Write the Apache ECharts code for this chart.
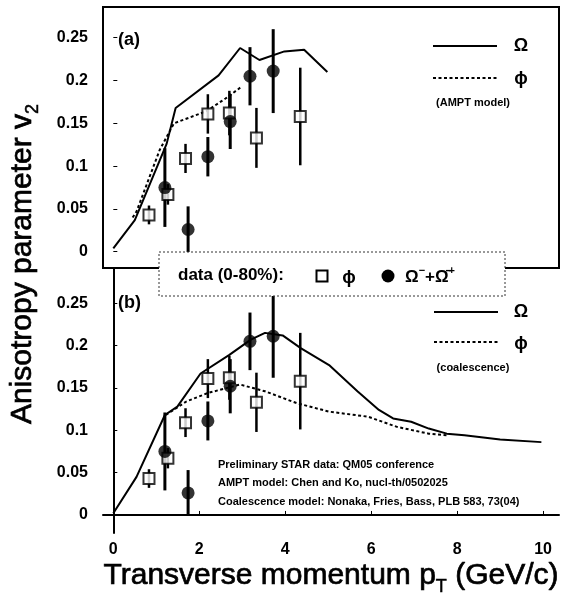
<!DOCTYPE html>
<html>
<head>
<meta charset="utf-8">
<script src="https://cdn.jsdelivr.net/npm/echarts@6/dist/echarts.min.js"></script>
<style>
html,body{margin:0;padding:0;background:#fff;}
#chart{width:561px;height:597px;}
</style>
</head>
<body>
<div id="chart"></div>
<script>
// ---- data ----
const xTicks = [0, 2, 4, 6, 8, 10];
const yTicks = [0, 0.05, 0.1, 0.15, 0.2, 0.25];

// STAR preliminary data (same in both panels)
const phiPt  = [0.83, 1.27, 1.68, 2.2, 2.7, 3.33, 4.35];
const phiV2  = [0.043, 0.067, 0.109, 0.161, 0.162, 0.133, 0.158];
const phiErr = [0.011, 0.012, 0.017, 0.023, 0.026, 0.035, 0.057];

const omegaPt  = [1.2, 1.74, 2.2, 2.72, 3.18, 3.72];
const omegaV2  = [0.075, 0.026, 0.111, 0.152, 0.205, 0.211];
const omegaErr = [0.046, 0.027, 0.023, 0.032, 0.034, 0.049];

// AMPT model curves (panel a)
const amptOmegaPt = [0, 0.5, 1.24, 1.45, 2.45, 2.95, 3.4, 3.98, 4.44, 4.98];
const amptOmegaV2 = [0.004, 0.037, 0.126, 0.168, 0.206, 0.238, 0.224, 0.234, 0.236, 0.21];
const amptPhiPt = [0.45, 0.54, 1.08, 1.24, 1.41, 2.16, 2.61, 2.99];
const amptPhiV2 = [0.04, 0.047, 0.119, 0.134, 0.15, 0.164, 0.179, 0.193];

// Coalescence model curves (panel b)
const coalOmegaPt = [0, 0.54, 1.2, 1.49, 2.03, 2.7, 3.2, 3.53, 3.94, 4.36, 5.02, 5.68, 6.18, 6.51, 6.93, 7.34, 7.76, 8.17, 9.0, 9.96];
const coalOmegaV2 = [0.002, 0.045, 0.118, 0.128, 0.167, 0.189, 0.207, 0.215, 0.212, 0.197, 0.177, 0.146, 0.124, 0.114, 0.11, 0.102, 0.096, 0.094, 0.089, 0.086];
const coalPhiPt = [1.22, 1.7, 2.2, 2.95, 3.53, 4.27, 5.02, 5.93, 6.6, 7.34, 7.76];
const coalPhiV2 = [0.118, 0.134, 0.144, 0.154, 0.146, 0.132, 0.122, 0.116, 0.104, 0.096, 0.094];

// ---- helpers ----
const FF = "'Liberation Sans', Arial, Helvetica, sans-serif";
const zip = (a, b) => a.map((v, i) => [v, b[i]]);
const zip3 = (a, b, c) => a.map((v, i) => [v, b[i], c[i]]);

function errBars(grid, pts, width) {
  return {
    type: 'custom', xAxisIndex: grid, yAxisIndex: grid, z: 3,
    data: pts,
    renderItem: function (params, api) {
      const x = api.value(0), y = api.value(1), e = api.value(2);
      const p1 = api.coord([x, y - e]);
      const p2 = api.coord([x, y + e]);
      return { type: 'line', shape: { x1: p1[0], y1: p1[1], x2: p2[0], y2: p2[1] },
               style: { stroke: '#000', lineWidth: width } };
    }
  };
}
function curve(grid, pts, dashed) {
  return {
    type: 'line', xAxisIndex: grid, yAxisIndex: grid, data: pts, showSymbol: false,
    symbol: 'none', z: 2, silent: true,
    lineStyle: { color: '#000', width: 2, type: dashed ? [3, 2.5] : 'solid' }
  };
}
function squares(grid) {
  return { type: 'scatter', xAxisIndex: grid, yAxisIndex: grid, z: 5,
    data: zip(phiPt, phiV2), symbol: 'rect', symbolSize: 11,
    itemStyle: { color: '#fff', borderColor: '#000', borderWidth: 2 } };
}
function circles(grid) {
  return { type: 'scatter', xAxisIndex: grid, yAxisIndex: grid, z: 6,
    data: zip(omegaPt, omegaV2), symbol: 'circle', symbolSize: 13,
    itemStyle: { color: '#000' } };
}

const tickFmt = v => String(+v.toFixed(2));
function yAxis(grid, min, max, showLine) {
  return {
    type: 'value', gridIndex: grid, min: min, max: max,
    axisLine: { show: showLine, lineStyle: { color: '#000', width: 2 } },
    axisTick: { show: true, inside: true, length: 4, customValues: yTicks, lineStyle: { color: '#000', width: 1 } },
    axisLabel: { customValues: yTicks, formatter: tickFmt, color: '#000', fontSize: 16,
                 fontWeight: 'bold', fontFamily: FF, margin: 15 },
    splitLine: { show: false }
  };
}

const titleRich = (subPad) => ({
  a: { fontSize: 30, fontFamily: FF, fill: '#000', stroke: '#000', lineWidth: 0.7, lineHeight: 34, verticalAlign: 'top' },
  s: { fontSize: 18, fontFamily: FF, fill: '#000', stroke: '#000', lineWidth: 0.5, lineHeight: 18, padding: [subPad, 0, 0, 0], verticalAlign: 'top' }
});

const chart = echarts.init(document.getElementById('chart'), null, { renderer: 'canvas' });

const option = {
  backgroundColor: '#fff',
  animation: false,
  grid: [
    { left: 103, top: 7, width: 456, height: 261, show: true, borderColor: '#000', borderWidth: 2, backgroundColor: 'rgba(0,0,0,0)' },
    { left: 103, top: 268, width: 456, height: 265 }
  ],
  xAxis: [
    { type: 'value', gridIndex: 0, min: -0.24, max: 10.37,
      axisLine: { show: false }, axisTick: { show: false }, axisLabel: { show: false }, splitLine: { show: false } },
    { type: 'value', gridIndex: 1, min: -0.24, max: 10.37,
      axisLine: { show: true, lineStyle: { color: '#000', width: 2 } },
      axisTick: { show: true, inside: true, length: 4, customValues: xTicks, lineStyle: { color: '#000' } },
      axisLabel: { customValues: xTicks, color: '#000', fontSize: 16, fontWeight: 'bold', fontFamily: FF, margin: 9 },
      splitLine: { show: false } }
  ],
  yAxis: [ yAxis(0, -0.019, 0.2859, false), yAxis(1, -0.0213, 0.2916, true) ],
  series: [
    curve(0, zip(amptPhiPt, amptPhiV2), true),
    curve(0, zip(amptOmegaPt, amptOmegaV2), false),
    errBars(0, zip3(phiPt, phiV2, phiErr), 2.5),
    errBars(0, zip3(omegaPt, omegaV2, omegaErr), 3),
    squares(0), circles(0),
    curve(1, zip(coalPhiPt, coalPhiV2), true),
    curve(1, zip(coalOmegaPt, coalOmegaV2), false),
    errBars(1, zip3(phiPt, phiV2, phiErr), 2.5),
    errBars(1, zip3(omegaPt, omegaV2, omegaErr), 3),
    squares(1), circles(1)
  ],
  graphic: { elements: [
    // axis titles
    { type: 'text', x: 25, y: 264, rotation: Math.PI / 2, z: 10,
      style: { text: '{a|Anisotropy parameter v}{s|2}', align: 'center', verticalAlign: 'middle', rich: titleRich(16) } },
    { type: 'text', x: 331, y: 578, z: 10,
      style: { text: '{a|Transverse momentum p}{s|T}{a| (GeV/c)}', align: 'center', verticalAlign: 'middle', rich: titleRich(17) } },
    // panel labels
    { type: 'text', x: 118, y: 40, z: 10, style: { text: '(a)', font: 'bold 18px ' + FF, fill: '#000', align: 'left', verticalAlign: 'middle' } },
    { type: 'text', x: 118, y: 303, z: 10, style: { text: '(b)', font: 'bold 18px ' + FF, fill: '#000', align: 'left', verticalAlign: 'middle' } },
    // panel (a) legend
    { type: 'line', z: 10, shape: { x1: 433, y1: 46, x2: 497, y2: 46 }, style: { stroke: '#000', lineWidth: 2 } },
    { type: 'text', x: 521, y: 46, z: 10, style: { text: 'Ω', font: 'bold 18px ' + FF, fill: '#000', align: 'center', verticalAlign: 'middle' } },
    { type: 'line', z: 10, shape: { x1: 433, y1: 78, x2: 497, y2: 78 }, style: { stroke: '#000', lineWidth: 2, lineDash: [3, 2.5] } },
    { type: 'text', x: 521, y: 79, z: 10, style: { text: 'ϕ', font: 'bold 18px ' + FF, fill: '#000', align: 'center', verticalAlign: 'middle' } },
    { type: 'text', x: 473, y: 103, z: 10, style: { text: '(AMPT model)', font: 'bold 11px ' + FF, fill: '#000', align: 'center', verticalAlign: 'middle' } },
    // panel (b) legend
    { type: 'line', z: 10, shape: { x1: 434, y1: 312, x2: 498, y2: 312 }, style: { stroke: '#000', lineWidth: 2 } },
    { type: 'text', x: 521, y: 312, z: 10, style: { text: 'Ω', font: 'bold 18px ' + FF, fill: '#000', align: 'center', verticalAlign: 'middle' } },
    { type: 'line', z: 10, shape: { x1: 434, y1: 342, x2: 498, y2: 342 }, style: { stroke: '#000', lineWidth: 2, lineDash: [3, 2.5] } },
    { type: 'text', x: 521, y: 344, z: 10, style: { text: 'ϕ', font: 'bold 18px ' + FF, fill: '#000', align: 'center', verticalAlign: 'middle' } },
    { type: 'text', x: 473, y: 368, z: 10, style: { text: '(coalescence)', font: 'bold 11px ' + FF, fill: '#000', align: 'center', verticalAlign: 'middle' } },
    // references
    { type: 'text', x: 218, y: 465, z: 10, style: { text: 'Preliminary STAR data: QM05 conference', font: 'bold 11px ' + FF, fill: '#000', align: 'left', verticalAlign: 'middle' } },
    { type: 'text', x: 218, y: 483, z: 10, style: { text: 'AMPT model: Chen and Ko, nucl-th/0502025', font: 'bold 11px ' + FF, fill: '#000', align: 'left', verticalAlign: 'middle' } },
    { type: 'text', x: 218, y: 502, z: 10, style: { text: 'Coalescence model: Nonaka, Fries, Bass, PLB 583, 73(04)', font: 'bold 11px ' + FF, fill: '#000', align: 'left', verticalAlign: 'middle' } },
    // data legend box
    { type: 'rect', z: 20, shape: { x: 159, y: 252, width: 346, height: 44 }, style: { fill: '#fff', stroke: '#333', lineWidth: 1, lineDash: [2, 2] } },
    { type: 'text', x: 178, y: 275, z: 21, style: { text: 'data (0-80%):', font: 'bold 17px ' + FF, fill: '#000', align: 'left', verticalAlign: 'middle' } },
    { type: 'rect', z: 21, shape: { x: 316.5, y: 270.5, width: 11, height: 11 }, style: { fill: '#fff', stroke: '#000', lineWidth: 2 } },
    { type: 'text', x: 349, y: 278, z: 21, style: { text: 'ϕ', font: 'bold 18px ' + FF, fill: '#000', align: 'center', verticalAlign: 'middle' } },
    { type: 'circle', z: 21, shape: { cx: 388, cy: 276, r: 6.5 }, style: { fill: '#000' } },
    { type: 'text', x: 405, y: 276, z: 21,
      style: { text: '{b|Ω}{s|−}{b|+Ω̄}{s|+}', align: 'left', verticalAlign: 'middle',
        rich: { b: { fontSize: 17, fontWeight: 'bold', fontFamily: FF, fill: '#000', lineHeight: 22, verticalAlign: 'top', padding: [4, 0, 0, 0] },
                s: { fontSize: 11, fontWeight: 'bold', fontFamily: FF, fill: '#000', lineHeight: 11, verticalAlign: 'top' } } } }
  ] }
};
chart.setOption(option);
</script>
</body>
</html>
